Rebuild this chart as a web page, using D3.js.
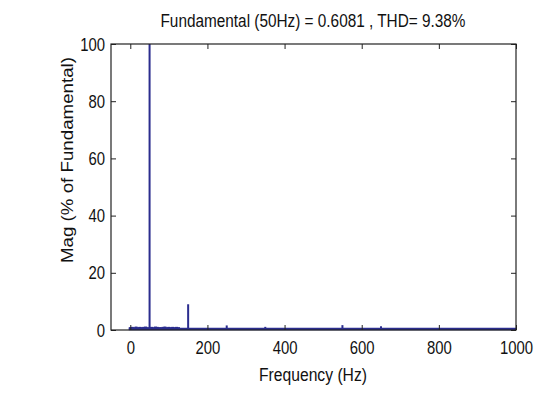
<!DOCTYPE html>
<html><head><meta charset="utf-8">
<script src="https://cdn.jsdelivr.net/npm/d3@7"></script>
<style>
body{margin:0;background:#fff;}
text{font-family:"Liberation Sans",Arial,sans-serif;fill:#111;}
</style></head>
<body><svg id="c" width="553" height="406"></svg>
<script>
// Data
const titleText = "Fundamental (50Hz) = 0.6081 , THD= 9.38%";
const xLabel = "Frequency (Hz)";
const yLabel = "Mag (% of Fundamental)";
const xTicks = [0, 200, 400, 600, 800, 1000];
const yTicks = [0, 20, 40, 60, 80, 100];
// low-frequency interharmonic band
const bandFreqs = [0,5,10,15,20,25,30,35,40,45,55,60,65,70,75,80,85,90,95,100,105,110,115,120,125];
const bandMags  = [1.0,1.1,1.0,1.2,1.0,1.1,1.0,1.1,1.2,1.0,1.1,1.0,1.2,1.1,1.0,1.0,1.1,1.2,1.0,1.1,1.0,1.1,1.0,1.1,1.0];
// harmonics
const harmFreqs = [50,150,250,350,450,550,650,750,850,950];
const harmMags  = [100,9.0,1.6,1.1,0.5,1.7,1.3,0.2,0.15,0.1];

const svg = d3.select("#c");
const L=111, R=516, T=44, B=330;
const x = d3.scaleLinear().domain([-50,1000]).range([L,R]);
const y = d3.scaleLinear().domain([0,100]).range([B,T]);
const barColor = "#2b2d8e";
const SX = 0.85, FS = 17.5;

// bars
const g = svg.append("g");
g.selectAll("rect.band").data(bandFreqs.map((f,i)=>({f,m:bandMags[i]}))).join("rect")
 .attr("x",d=>x(d.f)-1.5).attr("width",3)
 .attr("y",d=>y(d.m)).attr("height",d=>y(0)-y(d.m)).attr("fill",barColor);
g.selectAll("rect.harm").data(harmFreqs.map((f,i)=>({f,m:harmMags[i]}))).join("rect")
 .attr("x",d=>x(d.f)-1).attr("width",2)
 .attr("y",d=>y(d.m)).attr("height",d=>y(0)-y(d.m)).attr("fill",barColor);
// baseline
g.append("line").attr("x1",x(0)-1.5).attr("x2",x(1000)).attr("y1",y(0)-1).attr("y2",y(0)-1)
 .attr("stroke",barColor).attr("stroke-width",2.5);

// axes
const ax = svg.append("g");
function styleAxis(sel){
  sel.select(".domain").remove();
  sel.selectAll("line").attr("stroke","#222");
}
const xb = ax.append("g").attr("transform",`translate(0,${B})`)
  .call(d3.axisBottom(x).tickValues(xTicks).tickSizeInner(-5).tickSizeOuter(0).tickFormat(d3.format("d")));
styleAxis(xb);
xb.selectAll("text").attr("y",0).attr("dy",0)
  .attr("transform",d=>`translate(${0},${23.5}) scale(${SX},1)`)
  .style("font-size",FS+"px").attr("fill","#111");
const xt = ax.append("g").attr("transform",`translate(0,${T})`)
  .call(d3.axisTop(x).tickValues(xTicks).tickSizeInner(-5).tickSizeOuter(0).tickFormat(""));
styleAxis(xt);
const yl = ax.append("g").attr("transform",`translate(${L},0)`)
  .call(d3.axisLeft(y).tickValues(yTicks).tickSizeInner(-5).tickSizeOuter(0).tickFormat(d3.format("d")));
styleAxis(yl);
yl.selectAll("text").attr("x",0).attr("dy",0)
  .attr("transform",`translate(-6,6) scale(${SX},1)`)
  .style("font-size",FS+"px").attr("fill","#111").attr("text-anchor","end");
const yr = ax.append("g").attr("transform",`translate(${R},0)`)
  .call(d3.axisRight(y).tickValues(yTicks).tickSizeInner(-5).tickSizeOuter(0).tickFormat(""));
styleAxis(yr);
// frame
svg.append("rect").attr("x",L).attr("y",T).attr("width",R-L).attr("height",B-T)
  .attr("fill","none").attr("stroke","#222").attr("stroke-width",1.2);

// title & labels
svg.append("text").attr("x",313).attr("y",27).attr("text-anchor","middle")
  .attr("textLength",305).attr("lengthAdjust","spacingAndGlyphs")
  .style("font-size","17.5px").text(titleText);
svg.append("text").attr("x",313).attr("y",381).attr("text-anchor","middle")
  .attr("textLength",108).attr("lengthAdjust","spacingAndGlyphs")
  .style("font-size","17.5px").text(xLabel);
svg.append("text").attr("transform",`translate(73,160) scale(${SX},1) rotate(-90)`)
  .attr("text-anchor","middle").attr("textLength",206).attr("lengthAdjust","spacingAndGlyphs")
  .style("font-size","18.5px").text(yLabel);
</script></body></html>
